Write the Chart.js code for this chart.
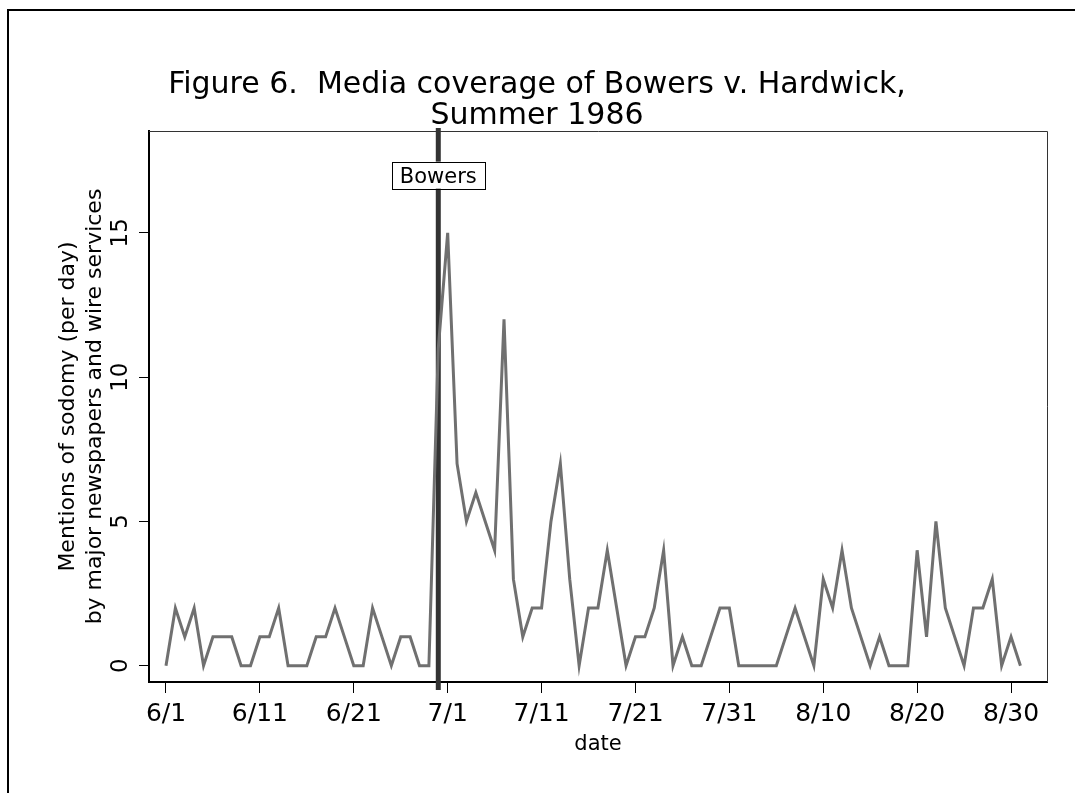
<!DOCTYPE html>
<html lang="en">
<head>
    <meta charset="UTF-8">
    <title>Figure 6. Media coverage of Bowers v. Hardwick</title>
    <script src="https://cdn.jsdelivr.net/npm/chart.js"></script>
    <style>
        body { margin: 0; background: #fff; }
        canvas { display: block; }
    </style>
</head>
<body>
    <canvas id="chart" width="1075" height="793"></canvas>

    <script>
        // Daily mentions, 6/1/1986 (index 0) through 8/31/1986 (index 91)
        const juneMentions = [0, 2, 1, 2, 0, 1, 1, 1, 0, 0,
                              1, 1, 2, 0, 0, 0, 1, 1, 2, 1,
                              0, 0, 2, 1, 0, 1, 1, 0, 0, 11];
        const julyMentions = [15, 7, 5, 6, 5, 4, 12, 3, 1, 2,
                              2, 5, 7, 3, 0, 2, 2, 4, 2, 0,
                              1, 1, 2, 4, 0, 1, 0, 0, 1, 2, 2];
        const augustMentions = [0, 0, 0, 0, 0, 1, 2, 1, 0, 3,
                                2, 4, 2, 1, 0, 1, 0, 0, 0, 4,
                                1, 5, 2, 1, 0, 2, 2, 3, 0, 1, 0];
        const mentions = juneMentions.concat(julyMentions, augustMentions);

        const xTickDays = [0, 10, 20, 30, 40, 50, 60, 70, 80, 90];
        const xTickLabels = ['6/1', '6/11', '6/21', '7/1', '7/11', '7/21', '7/31', '8/10', '8/20', '8/30'];
        const yTicks = [0, 5, 10, 15];

        const bowersDay = 29;      // 6/30
        const bowersLabelY = 17;
        const bowersLabel = 'Bowers';

        const titleLines = ['Figure 6.  Media coverage of Bowers v. Hardwick,', 'Summer 1986'];
        const yTitle = ['Mentions of sodomy (per day)', 'by major newspapers and wire services'];
        const xTitle = 'date';

        const FONT = '"DejaVu Sans", sans-serif';

        // extra drawing: frame, title, rotated y labels, Bowers line and box
        const decorations = {
            id: 'decorations',
            beforeDraw(chart) {
                const ctx = chart.ctx;
                ctx.save();
                ctx.fillStyle = '#fff';
                ctx.fillRect(0, 0, chart.width, chart.height);
                ctx.strokeStyle = '#000';
                ctx.lineWidth = 2;
                ctx.beginPath();
                ctx.moveTo(8, chart.height + 5);
                ctx.lineTo(8, 10);
                ctx.lineTo(chart.width + 5, 10);
                ctx.stroke();
                ctx.restore();
            },
            beforeDatasetsDraw(chart) {
                const ctx = chart.ctx;
                const a = chart.chartArea;
                const x = chart.scales.x.getPixelForValue(bowersDay);
                ctx.save();
                // thin top and right edges of the plot box
                ctx.strokeStyle = '#333';
                ctx.lineWidth = 1;
                ctx.beginPath();
                ctx.moveTo(a.left, a.top + 0.5);
                ctx.lineTo(a.right + 0.5, a.top + 0.5);
                ctx.lineTo(a.right + 0.5, a.bottom);
                ctx.stroke();
                // decision line
                ctx.strokeStyle = '#333';
                ctx.lineWidth = 5;
                ctx.beginPath();
                ctx.moveTo(x, a.top - 3);
                ctx.lineTo(x, a.bottom + 8);
                ctx.stroke();
                ctx.restore();
            },
            afterDraw(chart) {
                const ctx = chart.ctx;
                const xs = chart.scales.x, ys = chart.scales.y;
                ctx.save();
                ctx.fillStyle = '#000';

                // title
                ctx.font = '30px ' + FONT;
                ctx.textAlign = 'center';
                ctx.textBaseline = 'alphabetic';
                ctx.fillText(titleLines[0], 537, 93);
                ctx.fillText(titleLines[1], 537, 124);

                // rotated y tick labels
                ctx.font = '23px ' + FONT;
                yTicks.forEach(v => {
                    ctx.save();
                    ctx.translate(127, ys.getPixelForValue(v));
                    ctx.rotate(-Math.PI / 2);
                    ctx.textAlign = 'center';
                    ctx.textBaseline = 'alphabetic';
                    ctx.fillText(String(v), 0, 0);
                    ctx.restore();
                });

                // Bowers label box
                const bx = xs.getPixelForValue(bowersDay);
                const by = ys.getPixelForValue(bowersLabelY);
                ctx.font = '21px ' + FONT;
                const w = ctx.measureText(bowersLabel).width + 16;
                const h = 27;
                ctx.fillStyle = '#fff';
                ctx.fillRect(bx - w / 2, by - h / 2, w, h);
                ctx.strokeStyle = '#000';
                ctx.lineWidth = 1;
                ctx.strokeRect(Math.round(bx - w / 2) + 0.5, Math.round(by - h / 2) + 0.5, Math.round(w), h);
                ctx.fillStyle = '#000';
                ctx.textAlign = 'center';
                ctx.textBaseline = 'middle';
                ctx.fillText(bowersLabel, bx, by + 2);
                ctx.restore();
            }
        };

        new Chart(document.getElementById('chart'), {
            type: 'line',
            data: {
                datasets: [{
                    data: mentions.map((v, i) => ({ x: i, y: v })),
                    borderColor: '#707070',
                    borderWidth: 3,
                    pointRadius: 0,
                    tension: 0,
                    fill: false
                }]
            },
            options: {
                responsive: false,
                animation: false,
                layout: { padding: { left: 40, right: 28, top: 131, bottom: 0 } },
                plugins: { legend: { display: false }, tooltip: { enabled: false } },
                scales: {
                    x: {
                        type: 'linear',
                        min: -1.81,
                        max: 93.83,
                        afterBuildTicks: s => { s.ticks = xTickDays.map(v => ({ value: v })); },
                        afterFit: s => { s.height = 111; },
                        ticks: {
                            callback: (v, i) => xTickLabels[i],
                            font: { family: FONT, size: 25 },
                            color: '#000',
                            padding: 6,
                            maxRotation: 0,
                            autoSkip: false
                        },
                        grid: { drawOnChartArea: false, tickLength: 11, color: '#000', lineWidth: 1 },
                        border: { color: '#000', width: 2 },
                        title: {
                            display: true,
                            text: xTitle,
                            font: { family: FONT, size: 21 },
                            color: '#000',
                            padding: { top: 0, bottom: 36 }
                        }
                    },
                    y: {
                        type: 'linear',
                        min: -0.565,
                        max: 18.53,
                        afterBuildTicks: s => { s.ticks = yTicks.map(v => ({ value: v })); },
                        afterFit: s => { s.width = 109; },
                        ticks: { display: false },
                        grid: { drawOnChartArea: false, tickLength: 10, color: '#000', lineWidth: 1 },
                        border: { color: '#000', width: 2 },
                        title: {
                            display: true,
                            text: yTitle,
                            font: { family: FONT, size: 22, lineHeight: 1.23 },
                            color: '#000',
                            padding: { top: 15, bottom: 0 }
                        }
                    }
                }
            },
            plugins: [decorations]
        });
    </script>
</body>
</html>
